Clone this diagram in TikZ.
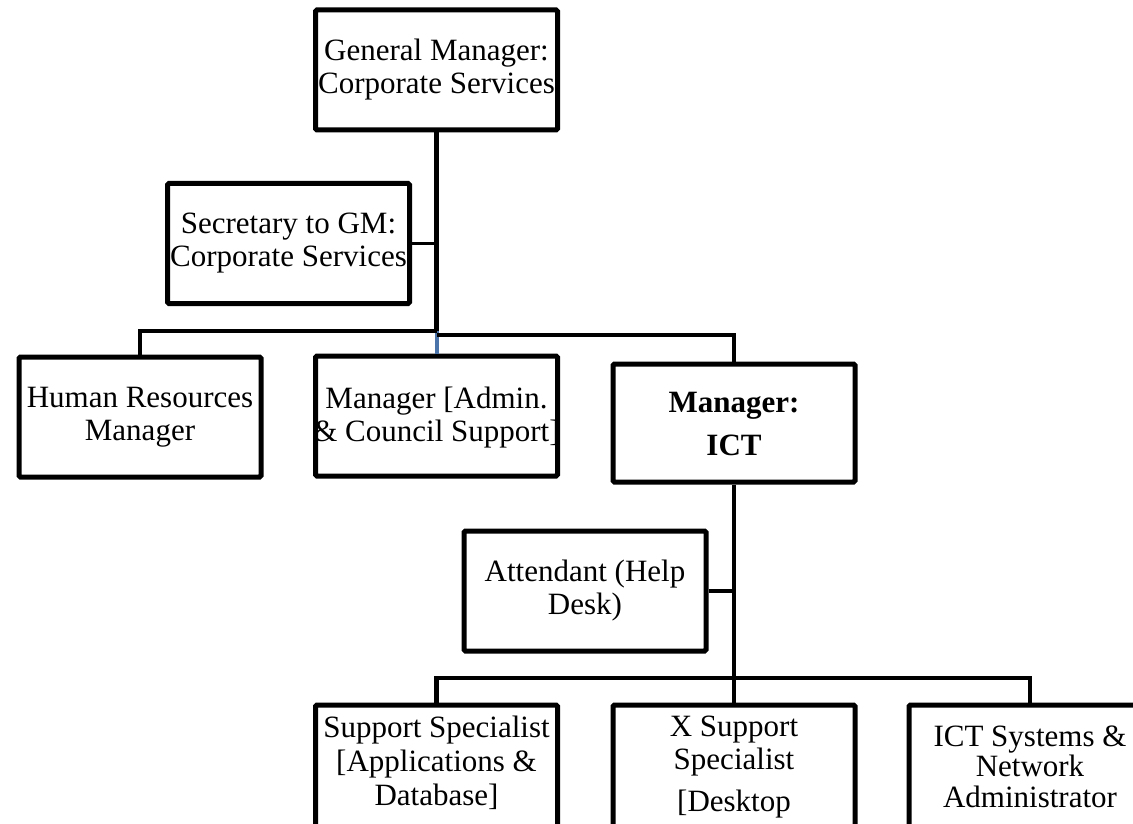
\documentclass[tikz,border=0pt]{standalone}
\usepackage{fontspec}
\setmainfont{Liberation Serif}
\definecolor{linkblue}{RGB}{74,116,170}
\begin{document}
\begin{tikzpicture}[x=1pt,y=-1pt,
  box/.style={draw=black, line width=5pt, rounded corners=1.5pt, inner sep=0pt,
              minimum width=242pt, minimum height=120pt},
  tallbox/.style={box, minimum height=240pt},
  lbl/.style={align=center, inner sep=0pt, font=\fontsize{31}{33}\selectfont},
  wire/.style={draw=black, line width=4.5pt},
  thinwire/.style={draw=black, line width=3.5pt},
  bluewire/.style={draw=linkblue, line width=4pt}]
\useasboundingbox (0,0) rectangle (1133,824);
\fill[white] (0,0) rectangle (1133,824);
\clip (0,0) rectangle (1133,824);

% boxes
\node[box] (gm)    at (436.5,70)  {};
\node[box] (sec)   at (288.5,243.5) {};
\node[box] (hr)    at (140,417)   {};
\node[box] (admin) at (436.5,416) {};
\node[box, minimum height=118pt] (ict) at (734,423) {};
\node[box] (att)   at (585,591)   {};
\node[tallbox] (ss) at (436.5,825) {};
\node[tallbox] (xs) at (734,825)   {};
\node[tallbox] (na) at (1030,825)  {};

% labels
\node[lbl] (tgm)    at (436.5,70)  {General Manager:\\Corporate Services};
\node[lbl] (tsec)   at (288.5,243.5) {Secretary to GM:\\Corporate Services};
\node[lbl] (thr)    at (140,417)   {Human Resources\\Manager};
\node[lbl] (tadmin) at (436.5,418) {Manager [Admin.\\\& Council Support]};
\node[lbl] (tict)   at (734,424)   {\bfseries Manager:\\[10pt]\bfseries ICT};
\node[lbl] (tatt)   at (585,591)   {Attendant (Help\\Desk)};
\node[lbl, anchor=north] (tss) at (436.5,716)
  {Support Specialist\\[1pt][Applications \&\\[1pt]Database]};
\node[lbl, anchor=north] (txs) at (734,716)
  {X Support\\Specialist\\[9pt][Desktop};
\node[lbl, anchor=north] (tna) at (1030,726)
  {ICT Systems \&\\[-3pt]Network\\[-2pt]Administrator};

% junctions
\coordinate (j1) at (436.5,331);
\coordinate (j2) at (436.5,335);
\coordinate (s1) at (436.5,243.5);
\coordinate (k1) at (734,591);
\coordinate (k2) at (734,678);

% connectors
\draw[bluewire] (j1) -- (admin.north);
\draw[wire] (gm.south) -- (j1);
\draw[wire] (j1) -| (hr.north);
\draw[wire] (j2) -| (ict.north);
\draw[thinwire] (sec.east) -- (s1);
\draw[wire] (ict.south) -- (xs.north);
\draw[thinwire] (att.east) -- (k1);
\draw[wire] (ss.north) |- (k2) -| (na.north);
\end{tikzpicture}
\end{document}
